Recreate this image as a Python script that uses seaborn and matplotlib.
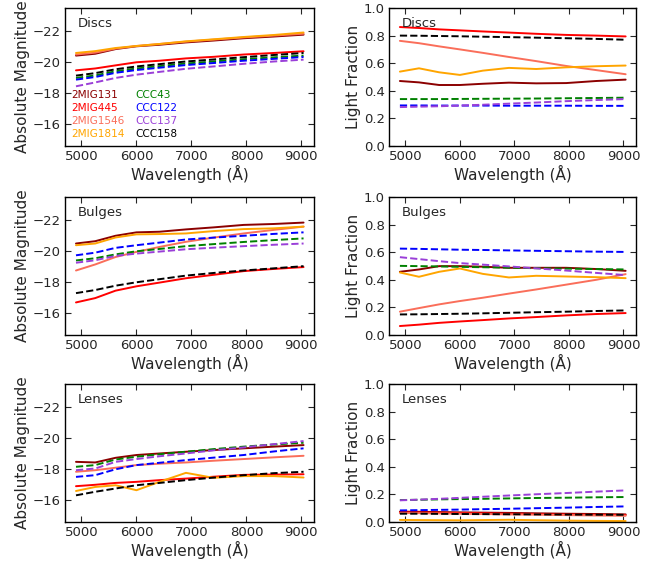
import numpy as np
import pandas as pd
import matplotlib
matplotlib.use("Agg")
import matplotlib.pyplot as plt
import seaborn as sns

# ---------------- data ----------------
wavelength = [4900, 5250, 5620, 6000, 6420, 6900, 7400, 7950, 8500, 9040]
galaxies = ["2MIG131", "2MIG445", "2MIG1546", "2MIG1814", "CCC43", "CCC122", "CCC137", "CCC158"]
components = ["Discs", "Bulges", "Lenses"]

# Absolute magnitudes
discs_mag = {
    "2MIG131": [-20.43, -20.55, -20.85, -21.03, -21.13, -21.28, -21.40, -21.55, -21.66, -21.78],
    "2MIG445": [-19.48, -19.60, -19.80, -20.00, -20.10, -20.25, -20.35, -20.50, -20.60, -20.71],
    "2MIG1546": [-20.50, -20.62, -20.88, -21.05, -21.18, -21.33, -21.46, -21.60, -21.72, -21.84],
    "2MIG1814": [-20.60, -20.72, -20.92, -21.05, -21.18, -21.35, -21.48, -21.63, -21.76, -21.92],
    "CCC43": [-18.99, -19.15, -19.42, -19.60, -19.75, -19.92, -20.05, -20.20, -20.32, -20.43],
    "CCC122": [-18.88, -19.05, -19.32, -19.50, -19.65, -19.82, -19.95, -20.10, -20.22, -20.34],
    "CCC137": [-18.45, -18.70, -18.99, -19.20, -19.38, -19.58, -19.73, -19.90, -20.05, -20.17],
    "CCC158": [-19.14, -19.30, -19.55, -19.73, -19.88, -20.05, -20.18, -20.33, -20.47, -20.60],
}
bulges_mag = {
    "2MIG131": [-20.50, -20.65, -21.00, -21.22, -21.26, -21.41, -21.54, -21.70, -21.76, -21.85],
    "2MIG445": [-16.70, -16.98, -17.46, -17.74, -17.98, -18.26, -18.48, -18.72, -18.86, -18.98],
    "2MIG1546": [-18.76, -19.15, -19.63, -19.96, -20.28, -20.61, -20.88, -21.15, -21.38, -21.59],
    "2MIG1814": [-20.39, -20.50, -20.89, -21.09, -21.11, -21.15, -21.30, -21.43, -21.48, -21.59],
    "CCC43": [-19.41, -19.55, -19.80, -20.00, -20.15, -20.33, -20.46, -20.60, -20.72, -20.83],
    "CCC122": [-19.74, -19.91, -20.22, -20.39, -20.56, -20.76, -20.88, -21.00, -21.12, -21.22],
    "CCC137": [-19.26, -19.42, -19.70, -19.85, -19.98, -20.13, -20.23, -20.33, -20.42, -20.50],
    "CCC158": [-17.30, -17.50, -17.78, -18.00, -18.20, -18.43, -18.60, -18.76, -18.90, -19.04],
}
lenses_mag = {
    "2MIG131": [-18.48, -18.44, -18.74, -18.92, -19.02, -19.13, -19.24, -19.35, -19.46, -19.56],
    "2MIG445": [-16.91, -17.00, -17.12, -17.19, -17.30, -17.40, -17.52, -17.64, -17.66, -17.68],
    "2MIG1546": [-17.84, -17.94, -18.10, -18.27, -18.36, -18.44, -18.55, -18.66, -18.77, -18.87],
    "2MIG1814": [-16.60, -16.86, -16.97, -16.65, -17.19, -17.77, -17.45, -17.56, -17.56, -17.47],
    "CCC43": [-18.16, -18.27, -18.63, -18.81, -18.97, -19.13, -19.30, -19.46, -19.60, -19.71],
    "CCC122": [-17.51, -17.62, -18.00, -18.27, -18.42, -18.59, -18.75, -18.92, -19.15, -19.35],
    "CCC137": [-17.94, -18.05, -18.48, -18.66, -18.84, -19.02, -19.22, -19.41, -19.62, -19.82],
    "CCC158": [-16.32, -16.55, -16.76, -16.97, -17.12, -17.30, -17.46, -17.62, -17.75, -17.84],
}

# Light fractions
discs_lf = {
    "2MIG131": [0.471, 0.461, 0.442, 0.442, 0.451, 0.459, 0.454, 0.456, 0.471, 0.481],
    "2MIG445": [0.862, 0.855, 0.845, 0.838, 0.830, 0.822, 0.813, 0.805, 0.800, 0.794],
    "2MIG1546": [0.762, 0.745, 0.722, 0.700, 0.675, 0.645, 0.615, 0.580, 0.550, 0.520],
    "2MIG1814": [0.539, 0.563, 0.534, 0.515, 0.546, 0.566, 0.558, 0.570, 0.578, 0.583],
    "CCC43": [0.340, 0.340, 0.340, 0.341, 0.342, 0.343, 0.344, 0.346, 0.348, 0.350],
    "CCC122": [0.294, 0.294, 0.293, 0.293, 0.293, 0.292, 0.292, 0.292, 0.291, 0.291],
    "CCC137": [0.282, 0.285, 0.288, 0.293, 0.299, 0.307, 0.315, 0.325, 0.333, 0.340],
    "CCC158": [0.800, 0.799, 0.797, 0.795, 0.792, 0.789, 0.785, 0.781, 0.776, 0.770],
}
bulges_lf = {
    "2MIG131": [0.458, 0.475, 0.499, 0.499, 0.495, 0.487, 0.487, 0.487, 0.478, 0.465],
    "2MIG445": [0.065, 0.075, 0.088, 0.098, 0.108, 0.120, 0.130, 0.142, 0.152, 0.159],
    "2MIG1546": [0.169, 0.195, 0.222, 0.246, 0.270, 0.300, 0.330, 0.365, 0.400, 0.441],
    "2MIG1814": [0.453, 0.422, 0.458, 0.482, 0.443, 0.417, 0.429, 0.424, 0.419, 0.412],
    "CCC43": [0.501, 0.499, 0.497, 0.494, 0.491, 0.488, 0.484, 0.481, 0.478, 0.475],
    "CCC122": [0.626, 0.624, 0.621, 0.618, 0.616, 0.613, 0.610, 0.607, 0.604, 0.602],
    "CCC137": [0.564, 0.550, 0.535, 0.521, 0.510, 0.497, 0.483, 0.467, 0.450, 0.434],
    "CCC158": [0.149, 0.150, 0.152, 0.154, 0.157, 0.161, 0.165, 0.169, 0.174, 0.178],
}
lenses_lf = {
    "2MIG131": [0.075, 0.074, 0.072, 0.070, 0.068, 0.066, 0.063, 0.060, 0.058, 0.055],
    "2MIG445": [0.070, 0.069, 0.067, 0.065, 0.063, 0.060, 0.058, 0.055, 0.052, 0.050],
    "2MIG1546": [0.065, 0.064, 0.062, 0.060, 0.058, 0.055, 0.053, 0.050, 0.047, 0.045],
    "2MIG1814": [0.015, 0.014, 0.013, 0.012, 0.014, 0.016, 0.013, 0.010, 0.008, 0.007],
    "CCC43": [0.159, 0.161, 0.164, 0.166, 0.168, 0.171, 0.174, 0.176, 0.179, 0.181],
    "CCC122": [0.084, 0.086, 0.088, 0.090, 0.093, 0.096, 0.100, 0.104, 0.109, 0.113],
    "CCC137": [0.157, 0.162, 0.168, 0.175, 0.183, 0.192, 0.201, 0.210, 0.220, 0.229],
    "CCC158": [0.060, 0.060, 0.059, 0.058, 0.057, 0.056, 0.055, 0.054, 0.053, 0.052],
}

colors = {
    "2MIG131": "#8b0000", "2MIG445": "#ff0000", "2MIG1546": "#fa6e5a", "2MIG1814": "#ffa500",
    "CCC43": "#008000", "CCC122": "#0000ff", "CCC137": "#9a3fd8", "CCC158": "#000000",
}

mag_data = [discs_mag, bulges_mag, lenses_mag]
lf_data = [discs_lf, bulges_lf, lenses_lf]

# ---------------- figure ----------------
sns.set_style("ticks")
plt.rcParams["font.family"] = ["DejaVu Sans"]
plt.rcParams["xtick.direction"] = "in"
plt.rcParams["ytick.direction"] = "in"

fig = plt.figure(figsize=(6.59, 5.62), dpi=100)

W, H = 659, 562
col_x = [65, 389]
col_w = [249, 247]
row_top = [8, 197, 384]
row_h = 138

def make_ax(r, c):
    return fig.add_axes([col_x[c] / W, 1 - (row_top[r] + row_h) / H, col_w[c] / W, row_h / H])

for r, comp in enumerate(components):
    for c in range(2):
        ax = make_ax(r, c)
        data = mag_data[r] if c == 0 else lf_data[r]
        for g in galaxies:
            ls = "-" if g.startswith("2MIG") else "--"
            sns.lineplot(x=wavelength, y=data[g], color=colors[g], linestyle=ls,
                         lw=1.4, ax=ax, estimator=None, sort=False, legend=False)
        ax.set_xlim(4700, 9230)
        ax.set_xticks([5000, 6000, 7000, 8000, 9000])
        if c == 0:
            ax.set_ylim(-14.6, -23.5)
            ax.set_yticks([-16, -18, -20, -22])
            ax.set_ylabel("Absolute Magnitude", fontsize=11, labelpad=2)
        else:
            ax.set_ylim(0, 1)
            ax.set_yticks([0.0, 0.2, 0.4, 0.6, 0.8, 1.0])
            ax.set_yticklabels(["0.0", "0.2", "0.4", "0.6", "0.8", "1.0"])
            ax.set_ylabel("Light Fraction", fontsize=11, labelpad=2)
        ax.set_xlabel("Wavelength (Å)", fontsize=11, labelpad=1)
        ax.tick_params(axis="both", which="major", labelsize=9.5, direction="in",
                       top=True, right=True, length=4, width=0.8, pad=3)
        for sp in ax.spines.values():
            sp.set_linewidth(1.0)
            sp.set_color("black")
        ax.text(0.05, 0.885, comp, transform=ax.transAxes, fontsize=9.5,
                ha="left", va="center")
        if r == 0 and c == 0:
            xs = [0.027, 0.281]
            for i, g in enumerate(galaxies):
                col = i // 4
                row = i % 4
                ax.text(xs[col], 0.366 - row * 0.092, g, transform=ax.transAxes,
                        fontsize=7.6, color=colors[g], ha="left", va="center")

fig.savefig("out.png", dpi=100)
